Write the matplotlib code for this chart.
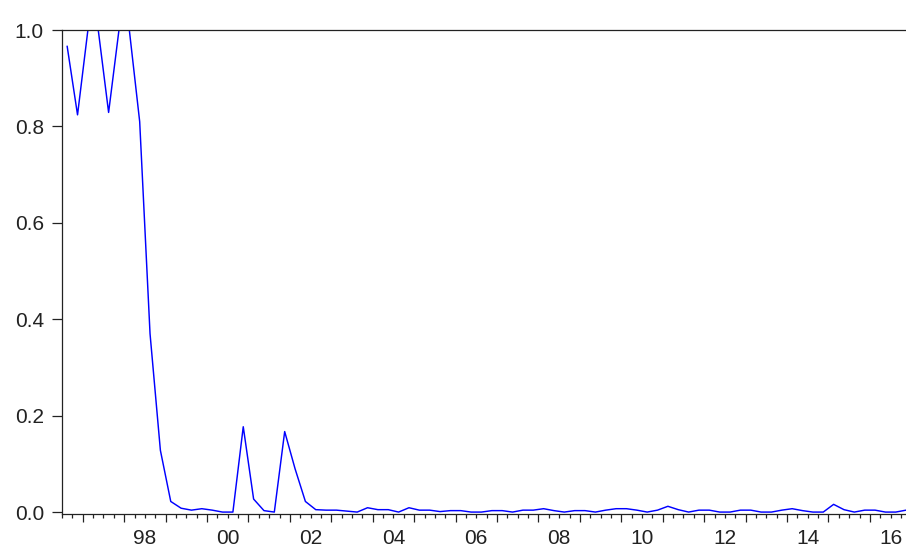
import matplotlib
matplotlib.use('Agg')
import matplotlib.pyplot as plt
import matplotlib.transforms as mtransforms
import numpy as np

# quarterly series, 1996Q3 .. 2016Q4
start_year = 1996
start_quarter = 3
values = [
    0.966, 0.824,                   # 1996 Q3-Q4
    1.0, 1.0, 0.829, 1.0,           # 1997
    1.0, 0.81, 0.37, 0.128,         # 1998
    0.022, 0.008, 0.004, 0.007,     # 1999
    0.004, 0.0, 0.0, 0.177,         # 2000
    0.027, 0.003, 0.0, 0.167,       # 2001
    0.09, 0.022, 0.005, 0.004,      # 2002
    0.004, 0.002, 0.0, 0.009,       # 2003
    0.005, 0.005, 0.0, 0.009,       # 2004
    0.004, 0.004, 0.001, 0.003,     # 2005
    0.003, 0.0, 0.0, 0.003,         # 2006
    0.003, 0.0, 0.004, 0.004,       # 2007
    0.007, 0.003, 0.0, 0.003,       # 2008
    0.003, 0.0, 0.004, 0.007,       # 2009
    0.007, 0.004, 0.0, 0.004,       # 2010
    0.012, 0.005, 0.0, 0.004,       # 2011
    0.004, 0.0, 0.0, 0.004,         # 2012
    0.004, 0.0, 0.0, 0.004,         # 2013
    0.007, 0.003, 0.0, 0.0,         # 2014
    0.016, 0.005, 0.0, 0.004,       # 2015
    0.004, 0.0, 0.0, 0.004,         # 2016
]
year_labels = ['98', '00', '02', '04', '06', '08', '10', '12', '14', '16']
label_years = [1998, 2000, 2002, 2004, 2006, 2008, 2010, 2012, 2014, 2016]
y_ticks = [0.0, 0.2, 0.4, 0.6, 0.8, 1.0]

# each observation sits in the middle of its quarter
n = len(values)
q_index = np.arange(n) + (start_quarter - 1)
x = start_year + q_index / 4.0 + 0.125

plt.rcParams['font.family'] = ['Liberation Sans', 'DejaVu Sans']

fig = plt.figure(figsize=(9.06, 5.48), dpi=100)
W, H = 906.0, 548.0
left, right = 62.0, 911.3
top, bottom = 30.0, 514.0
ax = fig.add_axes([left / W, (H - bottom) / H, (right - left) / W, (bottom - top) / H])

ax.plot(x, values, color='#0000ff', linewidth=1.05)

ax.set_xlim(1996.5, 2017.0)
ax.set_ylim(-0.004, 1.0)

ax.spines['right'].set_visible(False)
for s in ['top', 'left', 'bottom']:
    ax.spines[s].set_linewidth(0.9)
    ax.spines[s].set_color('#222222')

ax.set_yticks(y_ticks)
ax.set_yticklabels(['%.1f' % v for v in y_ticks])
ax.tick_params(axis='y', length=7, width=0.9, pad=6, labelsize=15, colors='#222222')

# long ticks at each year, short at quarters, labels centred on the year
ax.set_xticks(np.arange(1997, 2018))
ax.set_xticklabels([])
ax.set_xticks(np.arange(1996.5, 2017.01, 0.25), minor=True)
ax.tick_params(axis='x', which='major', length=6, width=0.9, colors='#222222')
ax.tick_params(axis='x', which='minor', length=3.2, width=0.9, colors='#222222')

trans = mtransforms.blended_transform_factory(ax.transData, ax.transAxes)
for yr, lab in zip(label_years, year_labels):
    ax.text(yr + 0.5, -0.03, lab, transform=trans, ha='center', va='top',
            fontsize=15, color='#222222')

fig.savefig('out.png', dpi=100)
